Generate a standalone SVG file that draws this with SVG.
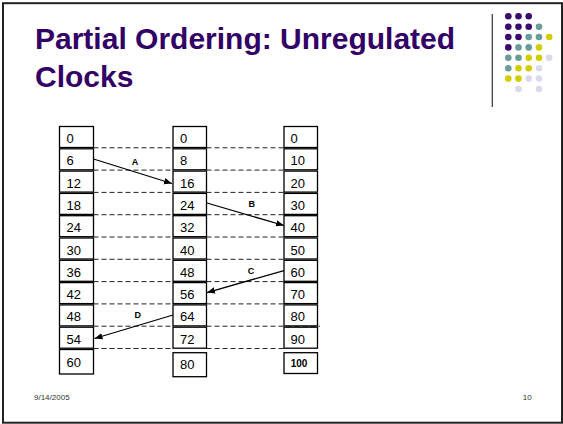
<svg xmlns="http://www.w3.org/2000/svg" width="563" height="424" viewBox="0 0 563 424">
<style>
.cell{fill:#fff;stroke:#000;stroke-width:1.3}
.num{font-family:"Liberation Sans",Arial,sans-serif;font-size:13px;fill:#000}
.big{font-family:"Liberation Sans",Arial,sans-serif;font-size:10px;font-weight:bold;fill:#000}
.lbl{font-family:"Liberation Sans",Arial,sans-serif;font-size:9px;font-weight:bold;fill:#000;text-anchor:middle}
.dash{stroke:#222;stroke-width:1;stroke-dasharray:5 3;fill:none}
.arr{stroke:#000;stroke-width:1.3;fill:none;marker-end:url(#ah)}
.title{font-family:"Liberation Sans",Arial,sans-serif;font-size:30px;font-weight:bold;fill:#330066}
.foot{font-family:"Liberation Sans",Arial,sans-serif;font-size:8px;fill:#333}
.p{fill:#3a0a6e}.t{fill:#6a9c9c}.y{fill:#d2cc00}.l{fill:#dadaee}
</style>
<defs>
<marker id="ah" markerUnits="userSpaceOnUse" markerWidth="10" markerHeight="8" refX="8" refY="4" orient="auto">
<path d="M0,0.8 L8,4 L0,7.2 Z" fill="#000"/>
</marker>
</defs>
<rect x="0" y="0" width="563" height="424" fill="#fff"/>
<rect x="3" y="3.2" width="559" height="419.5" fill="none" stroke="#222" stroke-width="2"/>
<g id="title">
<text class="title" x="35" y="48.5">Partial Ordering: Unregulated</text>
<text class="title" x="35" y="86.5">Clocks</text>
</g>
<g id="deco">
<line x1="492.3" y1="14" x2="492.3" y2="107" stroke="#333" stroke-width="1.2"/>
<circle class="p" cx="508.3" cy="16.3" r="3.3"/><circle class="p" cx="518.5" cy="16.3" r="3.3"/><circle class="p" cx="528.7" cy="16.3" r="3.3"/>
<circle class="p" cx="508.3" cy="26.7" r="3.3"/><circle class="p" cx="518.5" cy="26.7" r="3.3"/><circle class="p" cx="528.7" cy="26.7" r="3.3"/><circle class="t" cx="539" cy="26.7" r="3.3"/>
<circle class="p" cx="508.3" cy="37" r="3.3"/><circle class="p" cx="518.5" cy="37" r="3.3"/><circle class="t" cx="528.7" cy="37" r="3.3"/><circle class="t" cx="539" cy="37" r="3.3"/><circle class="y" cx="549.2" cy="37" r="3.3"/>
<circle class="p" cx="508.3" cy="47.4" r="3.3"/><circle class="t" cx="518.5" cy="47.4" r="3.3"/><circle class="t" cx="528.7" cy="47.4" r="3.3"/><circle class="y" cx="539" cy="47.4" r="3.3"/>
<circle class="t" cx="508.3" cy="57.8" r="3.3"/><circle class="t" cx="518.5" cy="57.8" r="3.3"/><circle class="y" cx="528.7" cy="57.8" r="3.3"/><circle class="y" cx="539" cy="57.8" r="3.3"/><circle class="l" cx="549.2" cy="57.8" r="3.3"/>
<circle class="t" cx="508.3" cy="68.2" r="3.3"/><circle class="y" cx="518.5" cy="68.2" r="3.3"/><circle class="y" cx="528.7" cy="68.2" r="3.3"/><circle class="l" cx="539" cy="68.2" r="3.3"/>
<circle class="y" cx="508.3" cy="78.6" r="3.3"/><circle class="y" cx="518.5" cy="78.6" r="3.3"/><circle class="l" cx="528.7" cy="78.6" r="3.3"/><circle class="l" cx="539" cy="78.6" r="3.3"/>
<circle class="l" cx="518.5" cy="89" r="3.3"/><circle class="l" cx="539" cy="89" r="3.3"/>
</g>
<g id="connectors">
<g id="dashes">
<line class="dash" x1="93.5" y1="147.8" x2="173" y2="147.8"/><line class="dash" x1="206.5" y1="147.8" x2="284" y2="147.8"/>
<line class="dash" x1="93.5" y1="170.1" x2="173" y2="170.1"/><line class="dash" x1="206.5" y1="170.1" x2="284" y2="170.1"/>
<line class="dash" x1="93.5" y1="192.4" x2="173" y2="192.4"/><line class="dash" x1="206.5" y1="192.4" x2="284" y2="192.4"/>
<line class="dash" x1="93.5" y1="214.7" x2="173" y2="214.7"/><line class="dash" x1="206.5" y1="214.7" x2="284" y2="214.7"/>
<line class="dash" x1="93.5" y1="237" x2="173" y2="237"/><line class="dash" x1="206.5" y1="237" x2="284" y2="237"/>
<line class="dash" x1="93.5" y1="259.3" x2="173" y2="259.3"/><line class="dash" x1="206.5" y1="259.3" x2="284" y2="259.3"/>
<line class="dash" x1="93.5" y1="281.6" x2="173" y2="281.6"/><line class="dash" x1="206.5" y1="281.6" x2="284" y2="281.6"/>
<line class="dash" x1="93.5" y1="303.9" x2="173" y2="303.9"/><line class="dash" x1="206.5" y1="303.9" x2="284" y2="303.9"/>
<line class="dash" x1="93.5" y1="326.2" x2="173" y2="326.2"/><line class="dash" x1="206.5" y1="326.2" x2="320" y2="326.2"/>
<line class="dash" x1="93.5" y1="348.5" x2="173" y2="348.5"/><line class="dash" x1="206.5" y1="348.5" x2="284" y2="348.5"/>
</g>
<g id="msgA"><line class="arr" x1="93.5" y1="159" x2="172" y2="183.5"/><text class="lbl" x="135" y="165">A</text></g>
<g id="msgB"><line class="arr" x1="207" y1="203" x2="284" y2="225.5"/><text class="lbl" x="251.7" y="207">B</text></g>
<g id="msgC"><line class="arr" x1="284" y1="270.5" x2="207" y2="292.5"/><text class="lbl" x="251" y="273.5">C</text></g>
<g id="msgD"><line class="arr" x1="173" y1="315" x2="94.5" y2="338.5"/><text class="lbl" x="137.7" y="318">D</text></g>
</g>
<g id="col1">
<g id="p1_0"><rect class="cell" x="59.5" y="126.5" width="34" height="21"/><text class="num" x="66.5" y="143">0</text></g>
<g id="p1_1"><rect class="cell" x="59.5" y="148.8" width="34" height="21"/><text class="num" x="66.5" y="165.3">6</text></g>
<g id="p1_2"><rect class="cell" x="59.5" y="171.1" width="34" height="21"/><text class="num" x="66.5" y="187.6">12</text></g>
<g id="p1_3"><rect class="cell" x="59.5" y="193.4" width="34" height="21"/><text class="num" x="66.5" y="209.9">18</text></g>
<g id="p1_4"><rect class="cell" x="59.5" y="215.7" width="34" height="21"/><text class="num" x="66.5" y="232.2">24</text></g>
<g id="p1_5"><rect class="cell" x="59.5" y="238" width="34" height="21"/><text class="num" x="66.5" y="254.5">30</text></g>
<g id="p1_6"><rect class="cell" x="59.5" y="260.3" width="34" height="21"/><text class="num" x="66.5" y="276.8">36</text></g>
<g id="p1_7"><rect class="cell" x="59.5" y="282.6" width="34" height="21"/><text class="num" x="66.5" y="299.1">42</text></g>
<g id="p1_8"><rect class="cell" x="59.5" y="304.9" width="34" height="21"/><text class="num" x="66.5" y="321.4">48</text></g>
<g id="p1_9"><rect class="cell" x="59.5" y="327.2" width="34" height="21"/><text class="num" x="66.5" y="343.7">54</text></g>
<g id="p1_10"><rect class="cell" x="59.5" y="349.5" width="34" height="24.5"/><text class="num" x="66.5" y="366.5">60</text></g>
</g>
<g id="col2">
<g id="p2_0"><rect class="cell" x="173" y="126.5" width="33.5" height="21"/><text class="num" x="180" y="143">0</text></g>
<g id="p2_1"><rect class="cell" x="173" y="148.8" width="33.5" height="21"/><text class="num" x="180" y="165.3">8</text></g>
<g id="p2_2"><rect class="cell" x="173" y="171.1" width="33.5" height="21"/><text class="num" x="180" y="187.6">16</text></g>
<g id="p2_3"><rect class="cell" x="173" y="193.4" width="33.5" height="21"/><text class="num" x="180" y="209.9">24</text></g>
<g id="p2_4"><rect class="cell" x="173" y="215.7" width="33.5" height="21"/><text class="num" x="180" y="232.2">32</text></g>
<g id="p2_5"><rect class="cell" x="173" y="238" width="33.5" height="21"/><text class="num" x="180" y="254.5">40</text></g>
<g id="p2_6"><rect class="cell" x="173" y="260.3" width="33.5" height="21"/><text class="num" x="180" y="276.8">48</text></g>
<g id="p2_7"><rect class="cell" x="173" y="282.6" width="33.5" height="21"/><text class="num" x="180" y="299.1">56</text></g>
<g id="p2_8"><rect class="cell" x="173" y="304.9" width="33.5" height="21"/><text class="num" x="180" y="321.4">64</text></g>
<g id="p2_9"><rect class="cell" x="173" y="327.2" width="33.5" height="21"/><text class="num" x="180" y="343.7">72</text></g>
<g id="p2_10"><rect class="cell" x="173" y="352.7" width="33.5" height="24"/><text class="num" x="180" y="369.3">80</text></g>
</g>
<g id="col3">
<g id="p3_0"><rect class="cell" x="284" y="126.5" width="33.5" height="21"/><text class="num" x="290.5" y="143">0</text></g>
<g id="p3_1"><rect class="cell" x="284" y="148.8" width="33.5" height="21"/><text class="num" x="290.5" y="165.3">10</text></g>
<g id="p3_2"><rect class="cell" x="284" y="171.1" width="33.5" height="21"/><text class="num" x="290.5" y="187.6">20</text></g>
<g id="p3_3"><rect class="cell" x="284" y="193.4" width="33.5" height="21"/><text class="num" x="290.5" y="209.9">30</text></g>
<g id="p3_4"><rect class="cell" x="284" y="215.7" width="33.5" height="21"/><text class="num" x="290.5" y="232.2">40</text></g>
<g id="p3_5"><rect class="cell" x="284" y="238" width="33.5" height="21"/><text class="num" x="290.5" y="254.5">50</text></g>
<g id="p3_6"><rect class="cell" x="284" y="260.3" width="33.5" height="21"/><text class="num" x="290.5" y="276.8">60</text></g>
<g id="p3_7"><rect class="cell" x="284" y="282.6" width="33.5" height="21"/><text class="num" x="290.5" y="299.1">70</text></g>
<g id="p3_8"><rect class="cell" x="284" y="304.9" width="33.5" height="21"/><text class="num" x="290.5" y="321.4">80</text></g>
<g id="p3_9"><rect class="cell" x="284" y="327.2" width="33.5" height="21"/><text class="num" x="290.5" y="343.7">90</text></g>
<g id="p3_10"><rect class="cell" x="284" y="352.7" width="33.5" height="20.8"/><text class="big" x="290.7" y="366.7">100</text></g>
</g>
<g id="footer">
<text class="foot" x="34" y="400">9/14/2005</text>
<text class="foot" x="531.7" y="399.5" text-anchor="end">10</text>
</g>
</svg>
